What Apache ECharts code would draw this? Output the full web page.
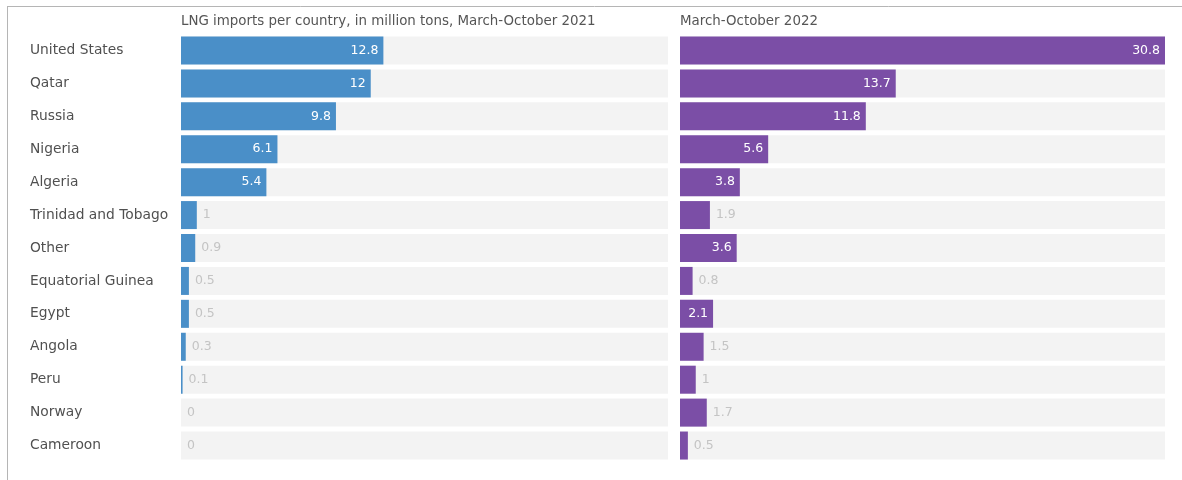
<!DOCTYPE html>
<html>
<head>
<meta charset="utf-8">
<script src="https://cdn.jsdelivr.net/npm/echarts@6/dist/echarts.min.js"></script>
<style>
  html, body { margin: 0; padding: 0; background: #fff; }
  #chart { width: 1182px; height: 480px; }
</style>
</head>
<body>
<div id="chart"></div>
<script>
// LNG imports per country, million tons
const countries = ['United States', 'Qatar', 'Russia', 'Nigeria', 'Algeria', 'Trinidad and Tobago',
  'Other', 'Equatorial Guinea', 'Egypt', 'Angola', 'Peru', 'Norway', 'Cameroon'];
const imports2021 = [12.8, 12, 9.8, 6.1, 5.4, 1, 0.9, 0.5, 0.5, 0.3, 0.1, 0, 0];
const imports2022 = [30.8, 13.7, 11.8, 5.6, 3.8, 1.9, 3.6, 0.8, 2.1, 1.5, 1, 1.7, 0.5];
const panelTitles = ['LNG imports per country, in million tons, March-October 2021', 'March-October 2022'];

const FONT = '"DejaVu Sans", sans-serif';
const scaleMax = Math.max(...imports2021, ...imports2022);

// values large enough get a white label inside the bar, the rest a grey one beside it
function withLabels(values) {
  return values.map(v => v >= 2
    ? { value: v, label: { position: 'insideRight', distance: 5, color: '#ffffff' } }
    : { value: v, label: { position: 'right', distance: 6, color: '#c4c4c4' } });
}

const grids = [
  { left: 181, width: 487, top: 34, height: 428 },
  { left: 680, width: 485, top: 34, height: 428 }
];

const chart = echarts.init(document.getElementById('chart'));
chart.setOption({
  animation: false,
  grid: grids,
  title: panelTitles.map((t, i) => ({
    text: t,
    left: grids[i].left,
    top: 15,
    padding: 0,
    textStyle: { fontFamily: FONT, fontSize: 13.4, fontWeight: 'normal', color: '#555' }
  })),
  xAxis: [0, 1].map(i => ({
    type: 'value', gridIndex: i, min: 0, max: scaleMax,
    show: false
  })),
  yAxis: [0, 1].map(i => ({
    type: 'category', gridIndex: i, data: countries, inverse: true,
    axisLine: { show: false }, axisTick: { show: false }, splitLine: { show: false },
    axisLabel: i === 0
      ? { show: true, align: 'left', margin: 151, fontFamily: FONT, fontSize: 13.8, color: '#505050' }
      : { show: false }
  })),
  series: [
    {
      type: 'bar', xAxisIndex: 0, yAxisIndex: 0,
      data: withLabels(imports2021),
      barWidth: 28,
      itemStyle: { color: '#4a8fc8' },
      showBackground: true,
      backgroundStyle: { color: '#f3f3f3' },
      label: { show: true, fontFamily: FONT, fontSize: 12.5 }
    },
    {
      type: 'bar', xAxisIndex: 1, yAxisIndex: 1,
      data: withLabels(imports2022),
      barWidth: 28,
      itemStyle: { color: '#7b4ea6' },
      showBackground: true,
      backgroundStyle: { color: '#f3f3f3' },
      label: { show: true, fontFamily: FONT, fontSize: 12.5 }
    }
  ],
  graphic: [
    { type: 'line', shape: { x1: 7, y1: 6.5, x2: 1182, y2: 6.5 }, style: { stroke: '#b5b5b5', lineWidth: 1 } },
    { type: 'line', shape: { x1: 7.5, y1: 6, x2: 7.5, y2: 480 }, style: { stroke: '#b5b5b5', lineWidth: 1 } }
  ]
});
</script>
</body>
</html>
